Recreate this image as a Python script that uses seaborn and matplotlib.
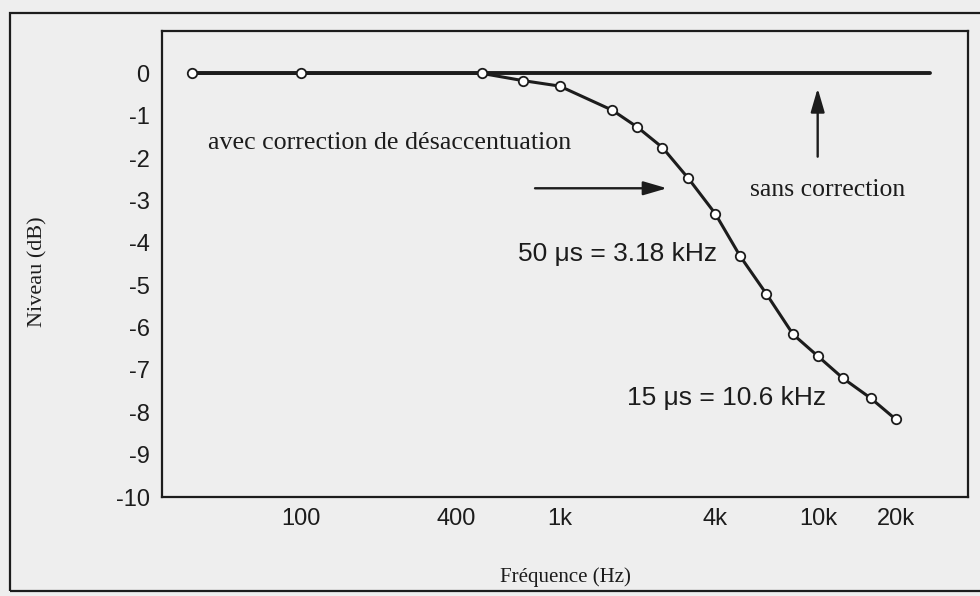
import matplotlib
matplotlib.use("Agg")
import matplotlib.pyplot as plt
from matplotlib import font_manager as fm
from matplotlib.patches import Rectangle
from matplotlib.ticker import NullLocator
import seaborn as sns

# ---- data ----
freq_corr = [38, 100, 500, 720, 1000, 1600, 2000, 2500, 3150, 4000, 5000,
             6300, 8000, 10000, 12500, 16000, 20000]
level_corr = [0.0, 0.0, 0.0, -0.17, -0.30, -0.87, -1.27, -1.75, -2.48, -3.31,
              -4.32, -5.20, -6.16, -6.68, -7.20, -7.67, -8.17]
freq_flat = [38, 27000]
level_flat = [0.0, 0.0]

xtick_vals = [100, 200, 300, 400, 500, 1000, 2000, 4000, 10000, 20000]
xtick_labels = ["100", "", "", "400", "", "1k", "", "4k", "10k", "20k"]
ytick_vals = list(range(0, -11, -1))
ytick_labels = ["0"] + ["-%d" % i for i in range(1, 11)]

# ---- style ----
sns.set_theme(style="white")
names = {f.name for f in fm.fontManager.ttflist}
narrow = "Liberation Sans Narrow" if "Liberation Sans Narrow" in names else "Liberation Sans"
serif = "Liberation Serif"
plt.rcParams["font.family"] = [narrow, "DejaVu Sans"]
plt.rcParams["axes.unicode_minus"] = False

bg = "#eeeeee"
ink = "#1c1c1c"

fig = plt.figure(figsize=(9.8, 5.96), dpi=100, facecolor=bg)
ax = fig.add_axes([162/980, 1-497/596, (968-162)/980, (497-31)/596])
ax.set_facecolor(bg)

sns.lineplot(x=freq_flat, y=level_flat, ax=ax, color=ink, linewidth=2.8,
             zorder=2)
sns.lineplot(x=freq_corr, y=level_corr, ax=ax, color=ink, linewidth=2.2,
             marker="o", markersize=6.8, markerfacecolor="white",
             markeredgecolor=ink, markeredgewidth=1.3, zorder=3)

ax.set_xscale("log")
ax.set_xlim(29, 38000)
ax.set_ylim(-10, 1)
ax.set_xticks(xtick_vals)
ax.set_xticklabels(xtick_labels)
ax.xaxis.set_minor_locator(NullLocator())
ax.set_yticks(ytick_vals)
ax.set_yticklabels(ytick_labels)
ax.tick_params(axis="both", direction="in", length=7, width=1.3, color=ink,
               labelsize=17, labelcolor=ink)
ax.tick_params(axis="x", pad=8)
ax.tick_params(axis="y", pad=9)
ax.set_xlabel("")
ax.set_ylabel("")
for s in ax.spines.values():
    s.set_color(ink)
    s.set_linewidth(1.6)

# ---- annotations ----
ax.text(0.0571, 0.7597, "avec correction de désaccentuation",
        transform=ax.transAxes, ha="left", va="center",
        family=[serif, "DejaVu Serif"], fontsize=18.7, color=ink)
ax.text(0.7295, 0.6588, "sans correction", transform=ax.transAxes,
        ha="left", va="center", family=[serif, "DejaVu Serif"], fontsize=18.5,
        color=ink)
ax.text(0.4417, 0.5215, "50 μs = 3.18 kHz", transform=ax.transAxes,
        ha="left", va="center", fontsize=19, color=ink)
ax.text(0.5769, 0.2124, "15 μs = 10.6 kHz", transform=ax.transAxes,
        ha="left", va="center", fontsize=19, color=ink)

ax.annotate("", xy=(0.6266, 0.6625), xytext=(0.4628, 0.6625),
            xycoords="axes fraction", textcoords="axes fraction",
            arrowprops=dict(arrowstyle="-|>,head_length=1.2,head_width=0.35",
                            color=ink, lw=1.7, shrinkA=0, shrinkB=0))
ax.annotate("", xy=(0.8135, 0.877), xytext=(0.8135, 0.7303),
            xycoords="axes fraction", textcoords="axes fraction",
            arrowprops=dict(arrowstyle="-|>,head_length=1.2,head_width=0.35",
                            color=ink, lw=1.7, shrinkA=0, shrinkB=0))

fig.text(38/980, 1-272/596, "Niveau (dB)", rotation=90, ha="center",
         va="center", family=[serif, "DejaVu Serif"], fontsize=16, color=ink)
fig.text(565/980, 1-577/596, "Fréquence (Hz)", ha="center", va="center",
         family=[serif, "DejaVu Serif"], fontsize=15, color=ink)

# outer frame of the figure
fig.add_artist(Rectangle((10/980, 1-591/596), (985-10)/980, (591-13)/596,
                         transform=fig.transFigure, fill=False,
                         edgecolor=ink, linewidth=1.6))

fig.savefig("out.png", dpi=100, facecolor=bg)
